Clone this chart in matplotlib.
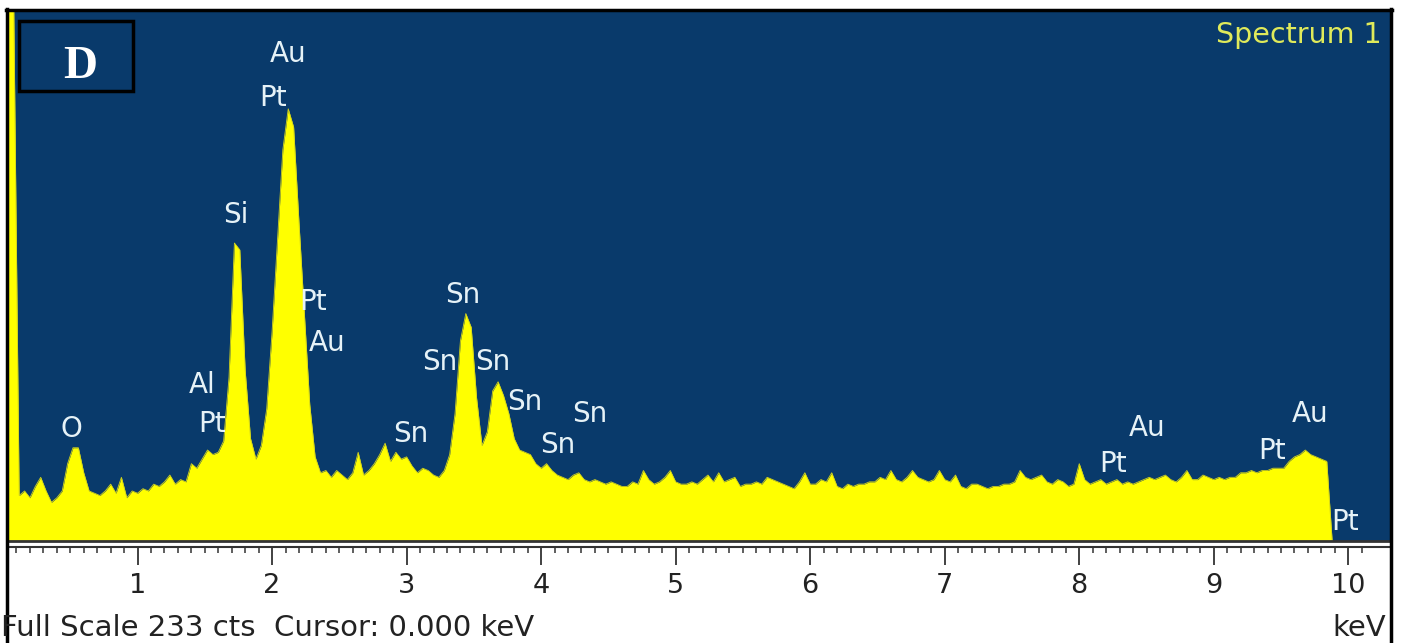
import numpy as np
import matplotlib
matplotlib.use("Agg")
import matplotlib.pyplot as plt
from matplotlib.lines import Line2D
from matplotlib.patches import Rectangle
import matplotlib.transforms as mtransforms

# ---------------- data ----------------
# channel grid (keV): 0.04, 0.08, ..., 9.88
CHANNEL_START = 0.04
CHANNEL_STEP = 0.04
counts = [
    # 0.04 - 1.00
    233, 233, 20, 22, 19, 24, 28, 22, 17, 19, 22, 34, 41, 41, 30, 22, 21, 20, 22, 25, 21, 28, 19, 22, 21,
    # 1.04 - 2.00
    23, 22, 25, 24, 26, 29, 25, 27, 26, 34, 32, 36, 40, 38, 39, 44, 72, 131, 128, 75, 45, 36, 42, 58, 92,
    # 2.04 - 3.00
    132, 172, 190, 182, 140, 100, 60, 37, 30, 31, 28, 31, 29, 27, 30, 39, 29, 31, 34, 38, 43, 35, 39, 36, 37,
    # 3.04 - 4.00
    33, 30, 32, 31, 29, 28, 31, 38, 56, 88, 100, 94, 63, 42, 48, 66, 70, 64, 56, 45, 40, 39, 38, 34, 32,
    # 4.04 - 5.00
    34, 31, 29, 28, 27, 29, 30, 27, 26, 27, 26, 25, 26, 25, 24, 24, 26, 25, 31, 27, 25, 26, 28, 31, 26,
    # 5.04 - 6.00
    25, 25, 26, 25, 27, 29, 26, 30, 26, 27, 28, 24, 25, 25, 26, 25, 28, 27, 26, 25, 24, 23, 26, 30, 25,
    # 6.04 - 7.00
    25, 27, 26, 30, 24, 23, 25, 24, 25, 25, 26, 26, 28, 27, 31, 27, 26, 28, 31, 28, 27, 26, 27, 31, 27,
    # 7.04 - 8.00
    26, 29, 24, 23, 25, 25, 24, 23, 24, 24, 25, 25, 26, 31, 28, 27, 28, 29, 26, 25, 27, 26, 24, 25, 34,
    # 8.04 - 9.00
    27, 25, 26, 27, 25, 26, 27, 25, 26, 25, 26, 27, 28, 27, 28, 29, 27, 26, 28, 31, 27, 27, 29, 28, 27,
    # 9.04 - 9.88
    28, 27, 28, 28, 30, 30, 31, 30, 31, 31, 32, 32, 32, 35, 37, 38, 40, 38, 37, 36, 35, 0,
]
energy = CHANNEL_START + CHANNEL_STEP * np.arange(len(counts))

FULL_SCALE = 233
tick_values = [1, 2, 3, 4, 5, 6, 7, 8, 9, 10]
tick_labels = ["1", "2", "3", "4", "5", "6", "7", "8", "9", "10"]

peak_labels = ["O", "Al", "Pt", "Si", "Au", "Pt", "Pt", "Au",
               "Sn", "Sn", "Sn", "Sn", "Sn", "Sn", "Sn",
               "Pt", "Au", "Pt", "Au", "Pt"]
peak_label_energy = [0.505, 1.48, 1.554, 1.732, 2.119, 2.01, 2.305, 2.41,
                     3.033, 3.42, 3.25, 3.643, 3.88, 4.364, 4.12,
                     8.253, 8.506, 9.435, 9.717, 9.978]
peak_label_counts = [50, 69.5, 52, 144, 215, 195.6, 106, 88,
                     48, 109, 79.6, 79.6, 62, 56.7, 43,
                     34.7, 50.5, 40.4, 56.7, 9.2]

# ---------------- figure ----------------
W, H = 1403, 643
fig = plt.figure(figsize=(W / 100, H / 100), dpi=100)
fig.patch.set_facecolor("white")

def fx(px):
    return px / W

def fy(py):
    return 1 - py / H

XMIN, XMAX = 0.037, 10.31
BLUE = "#093a6b"
YELLOW = "#ffff00"
LABEL_C = "#e6f2f7"
FONT = "DejaVu Sans"

# main spectrum axes
ax = fig.add_axes([fx(8), fy(541), fx(1390) - fx(8), fy(11) - fy(541)])
ax.set_facecolor(BLUE)
ax.fill_between(energy, counts, 0, color=YELLOW, lw=0)
ax.plot(energy, counts, color="#d4d41a", lw=0.6)
ax.set_xlim(XMIN, XMAX)
ax.set_ylim(0, FULL_SCALE)
ax.set_xticks([])
ax.set_yticks([])
for s in ["top", "left", "right"]:
    ax.spines[s].set_visible(False)
ax.spines["bottom"].set_color("#333333")
ax.spines["bottom"].set_linewidth(2.0)

# peak labels
lab_tr = mtransforms.offset_copy(ax.transData, fig=fig, x=0, y=-7, units="points")
for t, e, c in zip(peak_labels, peak_label_energy, peak_label_counts):
    ax.text(e, c, t, transform=lab_tr, ha="center", va="baseline",
            fontsize=20, color=LABEL_C, family=FONT)

# ruler axes with ticks hanging down
rx = fig.add_axes([fx(8), fy(570), fx(1390) - fx(8), fy(547) - fy(570)])
rx.set_facecolor("none")
rx.set_xlim(XMIN, XMAX)
rx.set_ylim(0, 1)
rx.set_yticks([])
rx.set_xticks(tick_values)
rx.set_xticklabels(tick_labels, fontsize=19.5, family=FONT, color="#222222")
rx.set_xticks(np.arange(1, 102) / 10.0, minor=True)
rx.tick_params(axis="x", which="both", top=True, bottom=False, direction="in",
               labeltop=False, labelbottom=True, color="#333333")
rx.tick_params(axis="x", which="major", length=13, width=1.3, pad=2)
rx.tick_params(axis="x", which="minor", length=4.5, width=1.1)
for s in ["bottom", "left", "right"]:
    rx.spines[s].set_visible(False)
rx.spines["top"].set_color("#333333")
rx.spines["top"].set_linewidth(1.5)

# outer frame
fig.add_artist(Line2D([fx(7), fx(7)], [0, fy(9)], transform=fig.transFigure, color="black", lw=2.5))
fig.add_artist(Line2D([fx(1391), fx(1391)], [0, fy(9)], transform=fig.transFigure, color="black", lw=2.5))
fig.add_artist(Line2D([fx(6), fx(1392)], [fy(10), fy(10)], transform=fig.transFigure, color="black", lw=2.5))

# panel label box
fig.add_artist(Rectangle((fx(19), fy(91)), fx(133) - fx(19), fy(21) - fy(91),
                         transform=fig.transFigure, facecolor="none",
                         edgecolor="black", lw=2.5))
fig.text(fx(80), fy(78), "D", ha="center", va="baseline", fontsize=34,
         fontweight="bold", family="Liberation Serif", color="white")

# spectrum title
fig.text(fx(1382), fy(35), "Spectrum 1", ha="right", va="center",
         fontsize=20.5, family=FONT, color="#e0ea5a")

# footer
fig.text(fx(1), fy(628), "Full Scale 233 cts  Cursor: 0.000 keV", ha="left",
         va="center", fontsize=21, family=FONT, color="#222222")
fig.text(fx(1386), fy(628), "keV", ha="right", va="center",
         fontsize=21, family=FONT, color="#222222")

fig.savefig("out.png", dpi=100, facecolor="white")
